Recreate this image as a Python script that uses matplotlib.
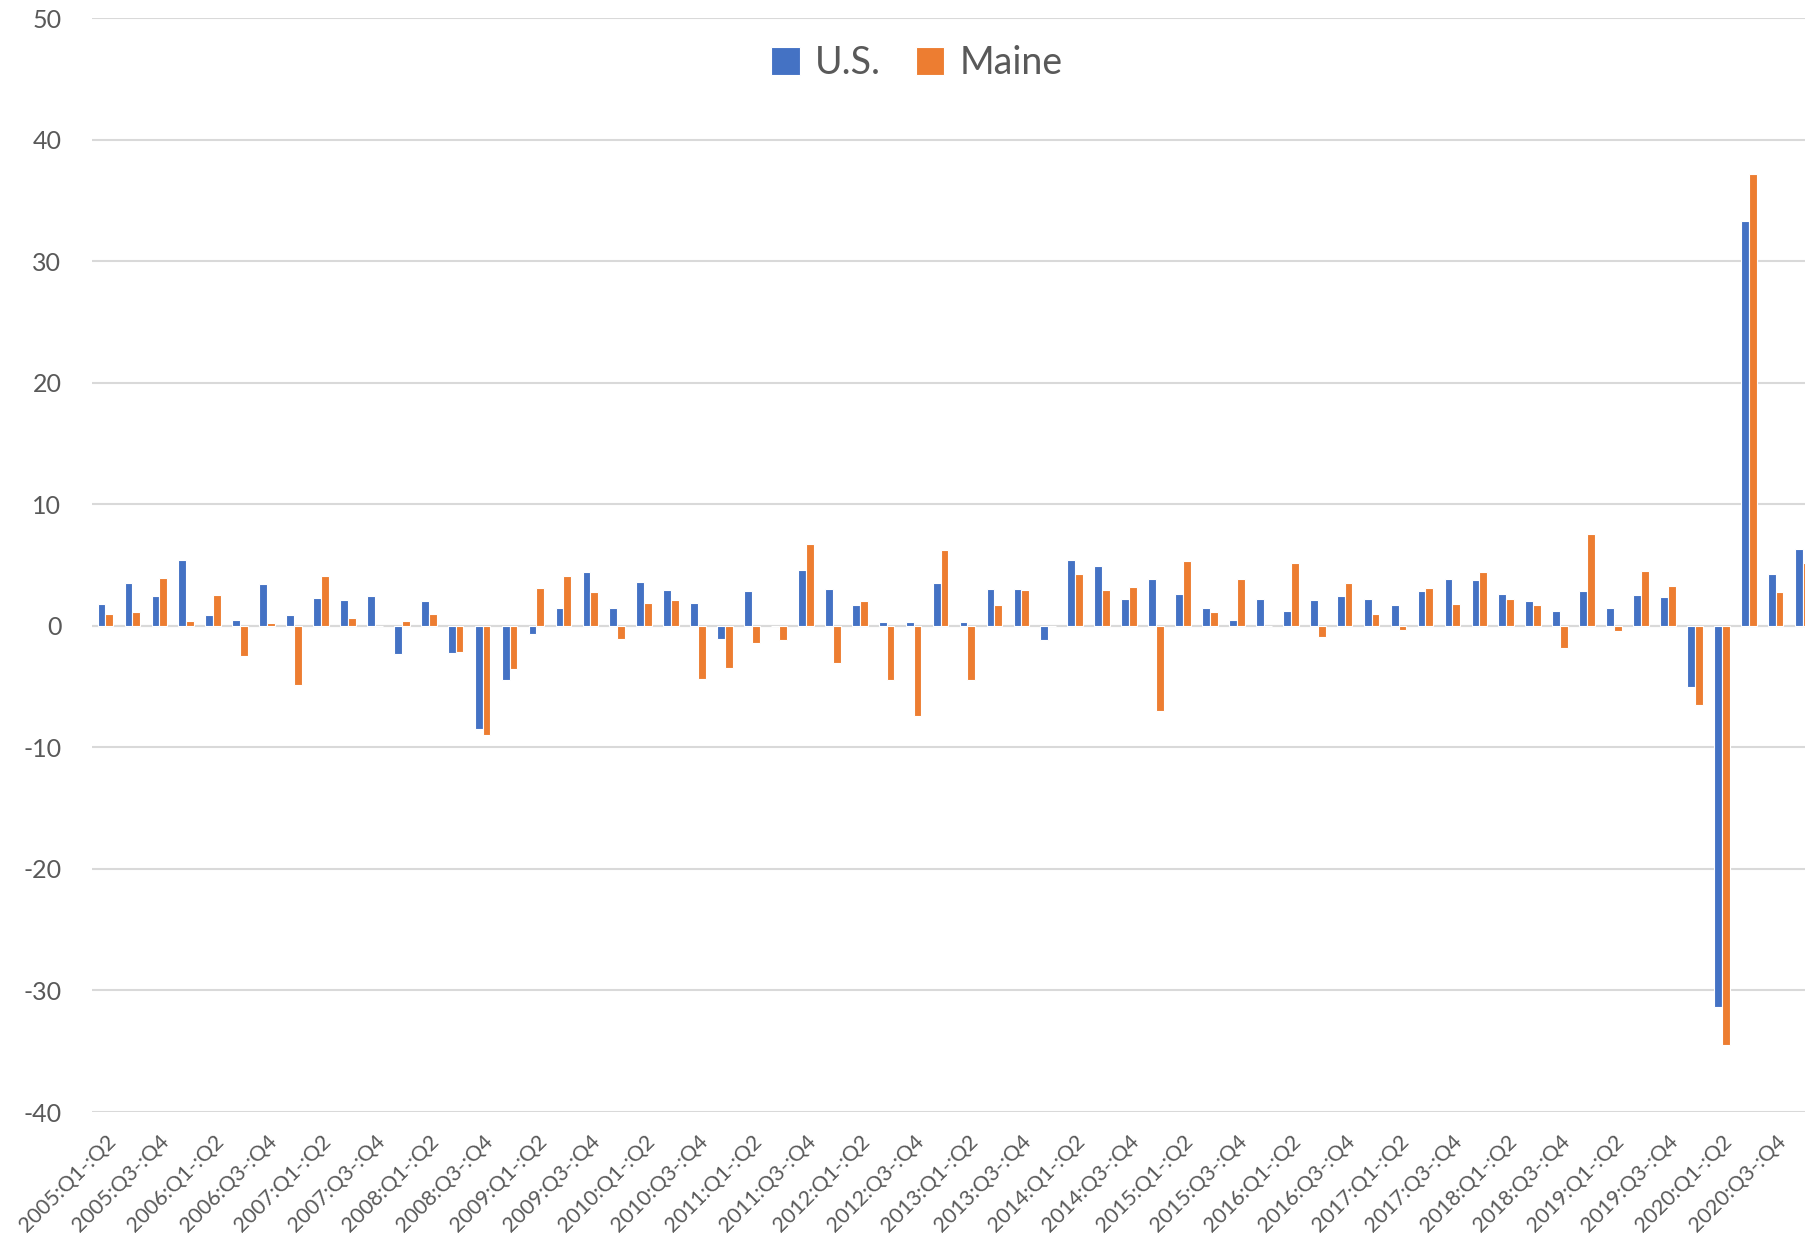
import matplotlib.pyplot as plt
import numpy as np

# quarter-over-quarter change, %
quarters = []
for yr in range(2005, 2021):
    quarters += [f'{yr}:Q1-:Q2', f'{yr}:Q2-:Q3', f'{yr}:Q3-:Q4', f'{yr}:Q4-{yr+1}:Q1']
quarters = quarters[:64]

us = [1.8, 3.5, 2.45, 5.4, 0.85, 0.5, 3.4, 0.85, 2.25, 2.1,
      2.45, -2.3, 2.0, -2.25, -8.5, -4.5, -0.7, 1.45, 4.4, 1.45,
      3.6, 2.95, 1.85, -1.05, 2.85, 0.0, 4.6, 3.05, 1.7, 0.35,
      0.35, 3.5, 0.35, 3.05, 3.05, -1.15, 5.45, 4.9, 2.2, 3.85,
      2.65, 1.45, 0.45, 2.2, 1.25, 2.1, 2.45, 2.2, 1.7, 2.85,
      3.85, 3.75, 2.65, 2.0, 1.25, 2.85, 1.45, 2.55, 2.35, -5.05,
      -31.4, 33.3, 4.25, 6.35]

maine = [1.0, 1.1, 3.95, 0.4, 2.55, -2.45, 0.2, -4.85, 4.1, 0.6,
         0.0, 0.4, 1.0, -2.15, -8.95, -3.55, 3.1, 4.1, 2.75, -1.05,
         1.85, 2.1, -4.4, -3.5, -1.45, -1.15, 6.7, -3.1, 2.0, -4.5,
         -7.45, 6.25, -4.5, 1.7, 2.95, 0.0, 4.25, 2.95, 3.2, -7.0,
         5.35, 1.1, 3.85, 0.0, 5.15, -0.9, 3.5, 1.0, -0.35, 3.1,
         1.8, 4.4, 2.2, 1.7, -1.8, 7.55, -0.45, 4.5, 3.3, -6.55,
         -34.5, 37.2, 2.75, 5.15]

blue = '#4472C4'
orange = '#ED7D31'
grey = '#595959'

plt.rcParams['font.family'] = ['Lato', 'DejaVu Sans']
plt.rcParams['axes.unicode_minus'] = False

fig = plt.figure(figsize=(18.05, 12.41), dpi=100)
ax = fig.add_axes([92 / 1805, 129 / 1241, 1 - 92 / 1805, (1112 - 18) / 1241])

x = np.arange(len(quarters))
w = 0.29
ax.bar(x - w / 2, us, w, color=blue, edgecolor='white', linewidth=0.8, label='U.S.', zorder=3)
ax.bar(x + w / 2, maine, w, color=orange, edgecolor='white', linewidth=0.8, label='Maine', zorder=3)

ax.set_xlim(-0.5, 63.09)
ax.set_ylim(-40, 50)
ax.set_yticks(range(-40, 51, 10))
ax.yaxis.grid(True, color='#d9d9d9', linewidth=1.5, zorder=0)
ax.axhline(0, color='#d9d9d9', linewidth=1.5, zorder=2)
for s in ax.spines.values():
    s.set_visible(False)

ax.set_xticks(x[::2])
ax.set_xticklabels(quarters[::2], rotation=45, ha='right', rotation_mode='anchor',
                   fontsize=15.5, color=grey)
ax.tick_params(axis='x', length=0, pad=14)
ax.tick_params(axis='y', length=0, pad=22, labelsize=18, labelcolor=grey)

fig.legend(loc='center', bbox_to_anchor=(0.508, 0.949), ncol=2, frameon=False,
           fontsize=27, labelcolor=grey, handlelength=0.75, handleheight=0.75,
           handletextpad=0.4, columnspacing=0.95)

fig.savefig('out.png', dpi=100)
